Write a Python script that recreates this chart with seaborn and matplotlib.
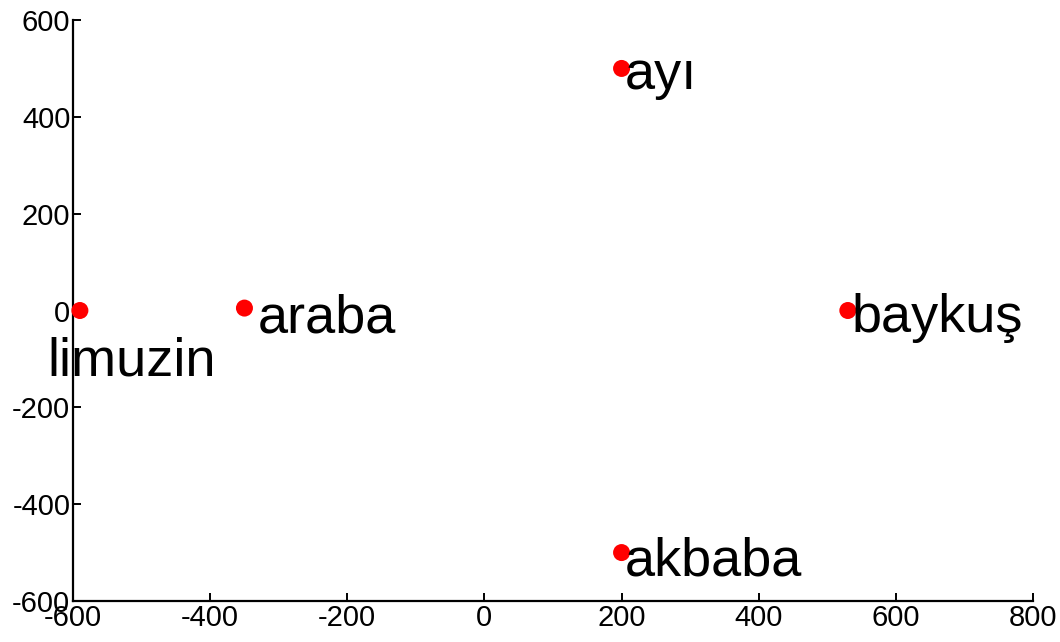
import matplotlib
matplotlib.use("Agg")
import matplotlib.pyplot as plt
import seaborn as sns
import pandas as pd

# word positions
words = ["limuzin", "araba", "ayı", "baykuş", "akbaba"]
xs = [-590, -350, 200, 530, 200]
ys = [0, 5, 500, 0, -500]

# where each label sits (baseline, left edge), in data units
label_x = [-638, -330, 205, 535, 205]
label_y = [-135, -45, 458, -45, -548]

sns.set_style("white")
plt.rcParams["font.family"] = ["Liberation Sans", "DejaVu Sans"]
plt.rcParams["axes.unicode_minus"] = False

df = pd.DataFrame({"word": words, "x": xs, "y": ys})

fig = plt.figure(figsize=(10.6, 6.42), dpi=100)
ax = fig.add_axes([0.0689, 0.0639, 0.9056, 0.9049])

sns.scatterplot(data=df, x="x", y="y", color="red", s=150,
                edgecolor="none", ax=ax, zorder=3, clip_on=False)

for w, tx, ty in zip(words, label_x, label_y):
    ax.text(tx, ty, w, fontsize=39, ha="left", va="baseline", color="black")

ax.set_xlim(-600, 800)
ax.set_ylim(-600, 600)
ax.set_xticks(range(-600, 801, 200))
ax.set_yticks(range(-600, 601, 200))
ax.set_xlabel("")
ax.set_ylabel("")

for side in ["top", "right"]:
    ax.spines[side].set_visible(False)
for side in ["left", "bottom"]:
    ax.spines[side].set_linewidth(1.6)
    ax.spines[side].set_color("black")

ax.tick_params(direction="in", length=6, width=1.4, labelsize=21,
               colors="black", pad=2, left=True, bottom=True)

fig.savefig("out.png", dpi=100)
